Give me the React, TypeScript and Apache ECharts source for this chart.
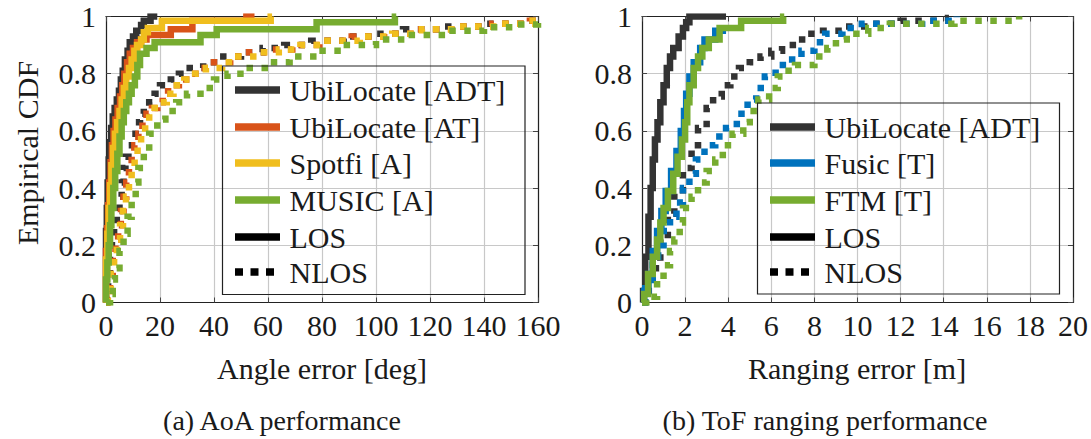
import React, { useEffect, useRef } from "react";
import * as echarts from "echarts";

type Pt = [number, number];

// Tick positions
const aoaTicks = [0, 20, 40, 60, 80, 100, 120, 140, 160];
const tofTicks = [0, 2, 4, 6, 8, 10, 12, 14, 16, 18, 20];
const cdfTicks = [0, 0.2, 0.4, 0.6, 0.8, 1];

// AoA error CDFs (deg), LOS
const aoaAdtLos: Pt[] = [[0, 0], [0, 0.25], [0.3, 0.33], [0.6, 0.42], [1, 0.5], [1.4, 0.56], [1.9, 0.61], [2.5, 0.65], [3.2, 0.68], [4, 0.71], [4.8, 0.74], [5.5, 0.78], [6.2, 0.81], [7, 0.85], [8, 0.88], [8.8, 0.91], [10, 0.93], [11.2, 0.95], [13, 0.97], [14, 0.985], [16.5, 1], [19, 1]];
const aoaAtLos: Pt[] = [[0, 0], [0, 0.18], [0.4, 0.26], [0.8, 0.34], [1.2, 0.42], [1.7, 0.49], [2.2, 0.55], [2.8, 0.6], [3.5, 0.64], [4.3, 0.68], [5.2, 0.72], [6, 0.76], [6.8, 0.8], [7.8, 0.84], [8.8, 0.87], [10, 0.89], [11.5, 0.91], [13, 0.92], [15, 0.935], [24, 0.955], [32, 0.985], [52, 1], [55, 1]];
const aoaSpotfiLos: Pt[] = [[0, 0], [0, 0.15], [0.5, 0.24], [1, 0.33], [1.5, 0.41], [2, 0.48], [2.6, 0.54], [3.3, 0.59], [4.1, 0.63], [5, 0.67], [5.8, 0.71], [6.6, 0.75], [7.5, 0.79], [8.5, 0.82], [9.5, 0.85], [10.5, 0.88], [11.5, 0.9], [13, 0.92], [14, 0.945], [15.5, 0.96], [20.7, 0.985], [61, 1], [61.5, 1]];
const aoaMusicLos: Pt[] = [[0, 0], [0, 0.08], [0.5, 0.14], [1, 0.2], [1.5, 0.27], [2, 0.33], [2.7, 0.4], [3.4, 0.46], [4.2, 0.52], [5, 0.58], [5.8, 0.63], [6.6, 0.67], [7.5, 0.7], [8.5, 0.73], [9.5, 0.76], [10.7, 0.79], [11.6, 0.83], [12.6, 0.87], [15, 0.89], [18, 0.91], [35, 0.935], [41, 0.955], [78, 0.98], [107, 1], [107.5, 1]];

// AoA error CDFs (deg), NLOS
const aoaAdtNlos: Pt[] = [[0, 0], [0.3, 0.05], [0.8, 0.1], [1.5, 0.16], [2.2, 0.22], [3, 0.27], [4, 0.32], [5, 0.37], [5.8, 0.42], [6.5, 0.47], [7.2, 0.51], [8.3, 0.55], [9.6, 0.59], [11, 0.63], [12.6, 0.66], [14, 0.68], [16, 0.7], [18, 0.73], [20, 0.76], [24, 0.78], [27, 0.8], [31, 0.82], [36, 0.84], [42, 0.86], [50, 0.875], [58, 0.89], [66, 0.9], [76, 0.915], [88, 0.93], [100, 0.94], [110, 0.955], [125, 0.965], [140, 0.975], [155, 0.985], [160, 0.99]];
const aoaAtNlos: Pt[] = [[0, 0], [0.5, 0.04], [1.5, 0.1], [2.5, 0.16], [3.5, 0.22], [4.5, 0.27], [5.5, 0.32], [6.5, 0.37], [7.5, 0.42], [8.5, 0.47], [9.5, 0.51], [10.5, 0.55], [12, 0.59], [13.5, 0.63], [15, 0.66], [17, 0.68], [19, 0.7], [21, 0.73], [23, 0.76], [27, 0.78], [31, 0.8], [35, 0.82], [40, 0.84], [46, 0.86], [53, 0.875], [61, 0.885], [69, 0.9], [79, 0.915], [91, 0.93], [103, 0.94], [114, 0.955], [128, 0.965], [143, 0.975], [157, 0.985], [160, 0.99]];
const aoaSpotfiNlos: Pt[] = [[0, 0], [0.7, 0.04], [1.8, 0.1], [3, 0.16], [4, 0.22], [5.2, 0.27], [6.3, 0.32], [7.4, 0.37], [8.5, 0.42], [9.5, 0.47], [10.6, 0.51], [11.7, 0.55], [13, 0.59], [14.5, 0.63], [16, 0.66], [18, 0.68], [20, 0.7], [22.5, 0.73], [25, 0.76], [29, 0.78], [33, 0.8], [37, 0.82], [43, 0.84], [49, 0.86], [56, 0.875], [64, 0.885], [72, 0.9], [82, 0.915], [94, 0.93], [106, 0.94], [117, 0.955], [131, 0.965], [146, 0.975], [158, 0.985], [160, 0.99]];
const aoaMusicNlos: Pt[] = [[0, 0], [1.5, 0.03], [2.5, 0.08], [3.3, 0.12], [5, 0.18], [6.5, 0.24], [8, 0.3], [9.5, 0.36], [11, 0.42], [12, 0.47], [14, 0.53], [16, 0.59], [19, 0.64], [22, 0.67], [26, 0.7], [30, 0.73], [35, 0.75], [40, 0.78], [45, 0.8], [52, 0.82], [60, 0.84], [68, 0.86], [78, 0.88], [88, 0.9], [100, 0.92], [112, 0.935], [126, 0.95], [140, 0.962], [152, 0.972], [160, 0.98]];

// Ranging error CDFs (m), LOS
const tofAdtLos: Pt[] = [[0, 0], [0.05, 0.04], [0.15, 0.16], [0.3, 0.3], [0.4, 0.4], [0.5, 0.5], [0.6, 0.57], [0.72, 0.63], [0.85, 0.7], [1, 0.76], [1.15, 0.82], [1.3, 0.86], [1.45, 0.89], [1.7, 0.93], [1.9, 0.96], [2.05, 0.98], [2.2, 1], [3.9, 1]];
const tofFusicLos: Pt[] = [[0, 0], [0.1, 0.04], [0.3, 0.1], [0.5, 0.18], [0.7, 0.25], [0.9, 0.32], [1.1, 0.39], [1.35, 0.46], [1.6, 0.53], [1.8, 0.6], [1.95, 0.67], [2.05, 0.73], [2.2, 0.79], [2.4, 0.84], [2.7, 0.89], [2.9, 0.92], [3.4, 0.95], [3.75, 0.955]];
const tofFtmLos: Pt[] = [[0, 0], [0.1, 0.03], [0.28, 0.1], [0.5, 0.16], [0.7, 0.22], [0.85, 0.28], [1, 0.33], [1.2, 0.39], [1.45, 0.45], [1.65, 0.51], [1.85, 0.57], [2, 0.63], [2.1, 0.7], [2.2, 0.76], [2.4, 0.82], [2.6, 0.86], [2.8, 0.89], [3.1, 0.92], [3.6, 0.96], [4.6, 0.985], [6.55, 1], [6.6, 1]];

// Ranging error CDFs (m), NLOS
const tofAdtNlos: Pt[] = [[0, 0], [0.15, 0.04], [0.48, 0.12], [0.85, 0.22], [1.2, 0.31], [1.5, 0.38], [1.9, 0.47], [2.3, 0.55], [2.6, 0.61], [3, 0.68], [3.3, 0.72], [3.7, 0.76], [4.1, 0.79], [4.5, 0.82], [5, 0.84], [5.5, 0.86], [6, 0.88], [6.5, 0.9], [7, 0.92], [7.7, 0.94], [8.4, 0.95], [9.3, 0.965], [10.6, 0.975], [12, 0.985], [14.2, 0.995], [14.4, 1]];
const tofFusicNlos: Pt[] = [[0, 0], [0.15, 0.05], [0.5, 0.16], [0.75, 0.2], [1, 0.25], [1.3, 0.3], [1.6, 0.35], [1.9, 0.4], [2.2, 0.45], [2.5, 0.5], [2.9, 0.55], [3.4, 0.58], [3.9, 0.61], [4.4, 0.66], [4.9, 0.71], [5.3, 0.75], [5.7, 0.79], [6.2, 0.83], [6.8, 0.85], [7.4, 0.88], [8, 0.91], [8.5, 0.94], [9.3, 0.96], [10.2, 0.975], [13, 0.985], [14.6, 1]];
const tofFtmNlos: Pt[] = [[0, 0], [0.2, 0.02], [0.7, 0.08], [1, 0.13], [1.3, 0.18], [1.5, 0.22], [1.75, 0.28], [1.9, 0.33], [2.3, 0.37], [2.6, 0.42], [3, 0.46], [3.4, 0.5], [3.75, 0.55], [4.2, 0.59], [4.7, 0.63], [5, 0.67], [5.4, 0.71], [5.9, 0.75], [6.3, 0.79], [6.6, 0.81], [7.1, 0.83], [8, 0.86], [8.6, 0.89], [9, 0.92], [9.5, 0.94], [10.5, 0.96], [11.5, 0.975], [14.5, 0.985], [17.5, 1]];

const C_ADT = "#333333";
const C_AT = "#D95319";
const C_SPOTFI = "#F0BE1E";
const C_MUSIC = "#77AC30";
const C_FUSIC = "#0072BD";

const FONT = "Liberation Serif, serif";
const TXT = "#1a1a1a";
const LW = 6.5;
const DOT = [6.5, 8.5];

function cdf(name: string, data: Pt[], color: string, dotted: boolean, grid: number, z: number) {
  return {
    type: "line",
    name,
    data,
    step: "end",
    xAxisIndex: grid * 2,
    yAxisIndex: grid * 2,
    symbol: "none",
    silent: true,
    clip: true,
    z,
    lineStyle: { color, width: LW, type: dotted ? DOT : "solid", cap: "butt", join: "miter" },
  };
}

const axisLineStyle = { show: true, onZero: false, lineStyle: { color: "#222", width: 1.2 } };
const axisTickStyle = { show: true, inside: true, length: 5, lineStyle: { color: "#444" } };
const gridLineStyle = { show: true, lineStyle: { color: "#c8c8c8", width: 1.2 } };

function xAxes(ticks: number[], grid: number) {
  const base = {
    type: "value",
    gridIndex: grid,
    min: ticks[0],
    max: ticks[ticks.length - 1],
    interval: ticks[1] - ticks[0],
    axisLine: axisLineStyle,
    axisTick: axisTickStyle,
  };
  return [
    {
      ...base,
      position: "bottom",
      axisLabel: { show: true, margin: 8, fontFamily: FONT, fontSize: 30, color: TXT, formatter: (v: number) => String(v) },
      splitLine: gridLineStyle,
    },
    { ...base, position: "top", axisLabel: { show: false }, splitLine: { show: false } },
  ];
}

function yAxes(ticks: number[], grid: number) {
  const base = {
    type: "value",
    gridIndex: grid,
    min: ticks[0],
    max: ticks[ticks.length - 1],
    interval: ticks[1] - ticks[0],
    axisLine: axisLineStyle,
    axisTick: axisTickStyle,
  };
  return [
    {
      ...base,
      position: "left",
      axisLabel: { show: true, margin: 10, fontFamily: FONT, fontSize: 30, color: TXT, formatter: (v: number) => String(Math.round(v * 10) / 10) },
      splitLine: gridLineStyle,
    },
    { ...base, position: "right", axisLabel: { show: false }, splitLine: { show: false } },
  ];
}

type Entry = { label: string; color: string; dotted: boolean };

function legendBox(x: number, y: number, w: number, h: number, rowY: number[], entries: Entry[]) {
  const children: any[] = [
    { type: "rect", z: 100, shape: { x, y, width: w, height: h }, style: { fill: "none", stroke: "#222", lineWidth: 1.2 } },
  ];
  entries.forEach((e, i) => {
    children.push({
      type: "line",
      z: 100,
      shape: { x1: x + 12.5, y1: rowY[i], x2: x + 57.5, y2: rowY[i] },
      style: { stroke: e.color, lineWidth: 7.5, lineCap: "butt", lineDash: e.dotted ? [8, 7.5] : null },
    });
    children.push({
      type: "text",
      z: 100,
      x: x + 67,
      y: rowY[i],
      style: { text: e.label, fontFamily: FONT, fontSize: 30, fill: TXT, verticalAlign: "middle", align: "left" },
    });
  });
  return { type: "group", children };
}

function label(text: string, x: number, y: number, size: number, rotation = 0) {
  return {
    type: "text",
    z: 100,
    x,
    y,
    rotation,
    style: { text, fontFamily: FONT, fontSize: size, fill: TXT, align: "center", verticalAlign: "middle" },
  };
}

export default function App() {
  const ref = useRef<HTMLDivElement>(null);

  useEffect(() => {
    if (!ref.current) return;
    const chart = echarts.init(ref.current, undefined, { renderer: "svg" });

    const option = {
      animation: false,
      backgroundColor: "#fff",
      textStyle: { fontFamily: FONT },
      grid: [
        { left: 106, top: 16.5, width: 432, height: 286 },
        { left: 642, top: 16.5, width: 431, height: 286 },
      ],
      xAxis: [...xAxes(aoaTicks, 0), ...xAxes(tofTicks, 1)],
      yAxis: [...yAxes(cdfTicks, 0), ...yAxes(cdfTicks, 1)],
      series: [
        cdf("UbiLocate [ADT] LOS", aoaAdtLos, C_ADT, false, 0, 2),
        cdf("UbiLocate [ADT] NLOS", aoaAdtNlos, C_ADT, true, 0, 2),
        cdf("UbiLocate [AT] LOS", aoaAtLos, C_AT, false, 0, 3),
        cdf("UbiLocate [AT] NLOS", aoaAtNlos, C_AT, true, 0, 3),
        cdf("Spotfi [A] LOS", aoaSpotfiLos, C_SPOTFI, false, 0, 4),
        cdf("Spotfi [A] NLOS", aoaSpotfiNlos, C_SPOTFI, true, 0, 4),
        cdf("MUSIC [A] LOS", aoaMusicLos, C_MUSIC, false, 0, 5),
        cdf("MUSIC [A] NLOS", aoaMusicNlos, C_MUSIC, true, 0, 5),
        cdf("UbiLocate [ADT] LOS", tofAdtLos, C_ADT, false, 1, 2),
        cdf("UbiLocate [ADT] NLOS", tofAdtNlos, C_ADT, true, 1, 2),
        cdf("Fusic [T] LOS", tofFusicLos, C_FUSIC, false, 1, 3),
        cdf("Fusic [T] NLOS", tofFusicNlos, C_FUSIC, true, 1, 3),
        cdf("FTM [T] LOS", tofFtmLos, C_MUSIC, false, 1, 4),
        cdf("FTM [T] NLOS", tofFtmNlos, C_MUSIC, true, 1, 4),
      ],
      graphic: [
        legendBox(222.5, 66, 302.5, 228.5, [90, 127, 163, 200, 237, 272], [
          { label: "UbiLocate [ADT]", color: C_ADT, dotted: false },
          { label: "UbiLocate [AT]", color: C_AT, dotted: false },
          { label: "Spotfi [A]", color: C_SPOTFI, dotted: false },
          { label: "MUSIC [A]", color: C_MUSIC, dotted: false },
          { label: "LOS", color: "#000", dotted: false },
          { label: "NLOS", color: "#000", dotted: true },
        ]),
        legendBox(757.5, 103, 302, 191, [127, 163, 200, 237, 272], [
          { label: "UbiLocate [ADT]", color: C_ADT, dotted: false },
          { label: "Fusic [T]", color: C_FUSIC, dotted: false },
          { label: "FTM [T]", color: C_MUSIC, dotted: false },
          { label: "LOS", color: "#000", dotted: false },
          { label: "NLOS", color: "#000", dotted: true },
        ]),
        label("Empirical CDF", 27, 153, 30, Math.PI / 2),
        label("Angle error [deg]", 322, 368, 30),
        label("Ranging error [m]", 857, 368, 30),
        label("(a) AoA performance", 282, 420, 28),
        label("(b) ToF ranging performance", 825, 420, 28),
      ],
    };

    chart.setOption(option as any);
    return () => chart.dispose();
  }, []);

  return <div ref={ref} style={{ position: "absolute", left: 0, top: 0, width: 1091, height: 439 }} />;
}
